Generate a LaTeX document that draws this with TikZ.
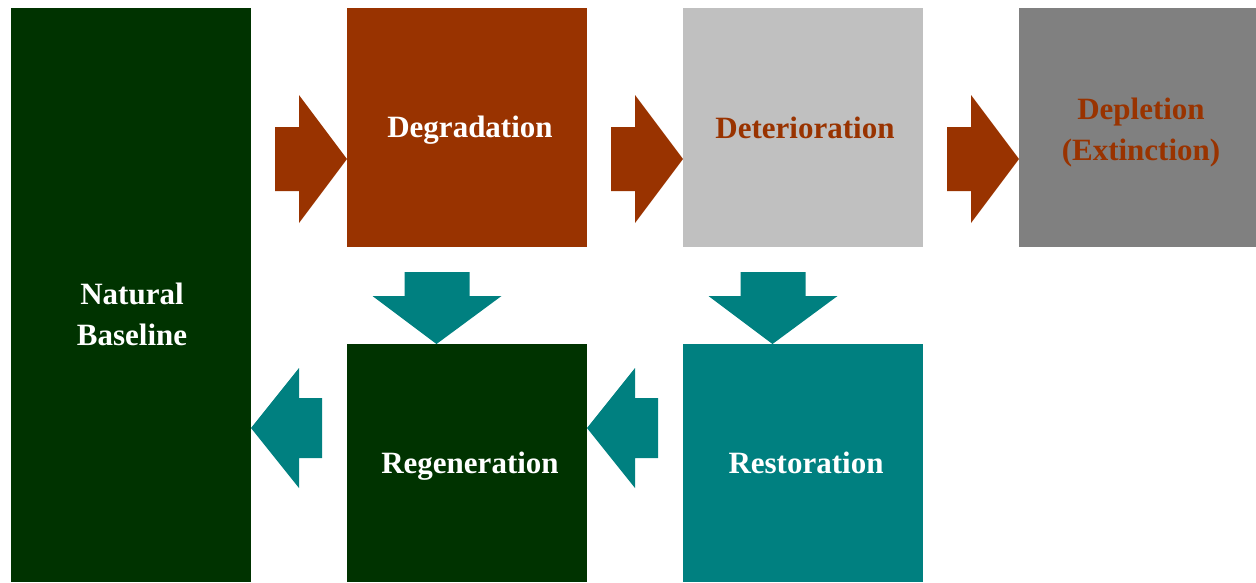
\documentclass[tikz,border=0pt]{standalone}
\usepackage{fontspec}
\setmainfont{Liberation Serif}
\usetikzlibrary{calc}
\definecolor{rust}{HTML}{993300}
\definecolor{forest}{HTML}{003300}
\definecolor{tealc}{HTML}{008080}
\definecolor{lightgrey}{HTML}{C0C0C0}
\definecolor{midgrey}{HTML}{808080}
\tikzset{
  stage/.style={rectangle, inner sep=0pt, outer sep=0pt, minimum width=240pt, minimum height=239pt, anchor=north west},
  label/.style={font=\fontsize{31}{41}\selectfont\bfseries, align=center, inner sep=0pt},
  blockarrow/.style={fill=#1, draw=none},
}
\begin{document}
\begin{tikzpicture}[x=1pt,y=-1pt]
\useasboundingbox (0,0) rectangle (1256,582);

% stage boxes
\node[stage, fill=forest, minimum height=574pt] (nb) at (11,8) {};
\node[stage, fill=rust] (deg) at (347,8) {};
\node[stage, fill=lightgrey] (det) at (683,8) {};
\node[stage, fill=midgrey] (dep) at (1019,8) {};
\node[stage, fill=forest, minimum height=238pt] (regen) at (347,344) {};
\node[stage, fill=tealc, minimum height=238pt] (rest) at (683,344) {};

% stage labels
\node[label, text=white] (nbt) at ($(nb.center)+(1,19.5)$) {Natural\\Baseline};
\node[label, text=white] (degt) at ($(deg.center)+(3,3)$) {Degradation};
\node[label, text=rust] (dett) at ($(det.center)+(2,0)$) {Deterioration};
\node[label, text=rust] (dept) at ($(dep.center)+(2,5)$) {Depletion\\(Extinction)};
\node[label, text=white] (regent) at ($(regen.center)+(3,3)$) {Regeneration};
\node[label, text=white] (restt) at ($(rest.center)+(3,0)$) {Restoration};

% arrow tips
\coordinate (t1) at ($(deg.west)+(0,31.5)$);
\coordinate (t2) at ($(det.west)+(0,31.5)$);
\coordinate (t3) at ($(dep.west)+(0,31.5)$);
\coordinate (d1) at ($(regen.north)+(-30.5,0)$);
\coordinate (d2) at ($(rest.north)+(-30.5,0)$);
\coordinate (l1) at ($(nb.east |- regen.west)+(0,-35)$);
\coordinate (l2) at ($(regen.east |- rest.west)+(0,-35)$);

% forward arrows (decline)
\foreach \t in {t1,t2,t3}
  \fill[blockarrow=rust] (\t) -- ++(-48,-64) -- ++(0,32) -- ++(-24,0) -- ++(0,64)
    -- ++(24,0) -- ++(0,32) -- cycle;

% downward arrows (recovery)
\foreach \t in {d1,d2}
  \fill[blockarrow=tealc] (\t) -- ++(-64,-48) -- ++(32,0) -- ++(0,-24) -- ++(65,0)
    -- ++(0,24) -- ++(32,0) -- cycle;

% return arrows
\foreach \t in {l1,l2}
  \fill[blockarrow=tealc] (\t) -- ++(48,-60) -- ++(0,30) -- ++(23,0) -- ++(0,60)
    -- ++(-23,0) -- ++(0,30) -- cycle;
\end{tikzpicture}
\end{document}
